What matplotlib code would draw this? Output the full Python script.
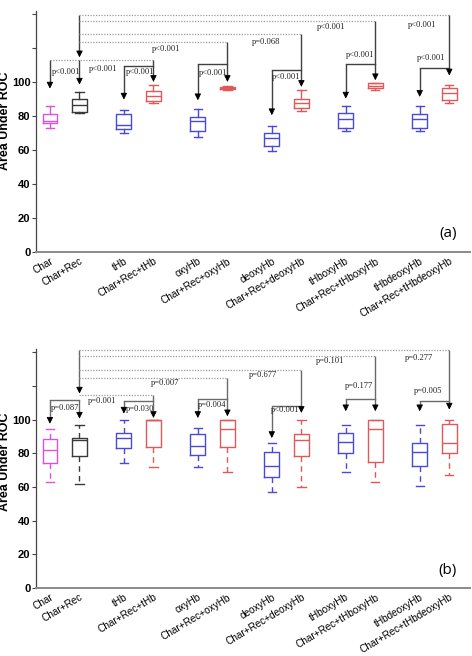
import matplotlib
matplotlib.use('Agg')
import matplotlib.pyplot as plt

categories = ['Char', 'Char+Rec', 'tHb', 'Char+Rec+tHb', 'oxyHb', 'Char+Rec+oxyHb',
              'deoxyHb', 'Char+Rec+deoxyHb', 'tHboxyHb', 'Char+Rec+tHboxyHb',
              'tHbdeoxyHb', 'Char+Rec+tHbdeoxyHb']
positions = [0, 1, 2.5, 3.5, 5, 6, 7.5, 8.5, 10, 11, 12.5, 13.5]
MAG, BLK, BLU, RED = '#e050e0', '#3a3a3a', '#4a4ad8', '#e05858'
box_colors = [MAG, BLK, BLU, RED, BLU, RED, BLU, RED, BLU, RED, BLU, RED]

# ---- panel (a) box statistics ----
a_whislo = [73.0, 82.0, 70.4, 87.5, 67.8, 95.3, 59.6, 82.9, 71.2, 95.7, 71.2, 87.5]
a_q1     = [76.0, 82.5, 72.7, 89.0, 71.2, 95.8, 62.5, 85.1, 73.3, 96.5, 73.3, 89.8]
a_med    = [77.3, 86.5, 74.7, 92.0, 77.3, 96.6, 67.3, 88.0, 78.6, 97.8, 78.6, 93.7]
a_q3     = [81.6, 90.0, 81.4, 95.1, 79.6, 97.2, 70.2, 90.4, 82.0, 99.4, 81.6, 96.9]
a_whishi = [86.3, 94.3, 83.9, 98.6, 84.5, 97.6, 74.3, 95.7, 86.3, 99.8, 86.3, 98.6]

# ---- panel (b) box statistics ----
b_whislo = [62.9, 61.7, 74.2, 71.6, 71.6, 68.9, 57.0, 60.3, 68.7, 62.9, 60.7, 67.3]
b_q1     = [74.2, 78.2, 83.1, 83.5, 79.2, 83.5, 65.9, 78.2, 80.2, 74.8, 72.6, 80.2]
b_med    = [82.1, 87.7, 89.1, 100.0, 84.1, 94.6, 72.6, 87.7, 86.5, 94.6, 80.8, 86.1]
b_q3     = [88.7, 89.1, 92.1, 100.0, 91.5, 100.0, 80.8, 91.7, 92.1, 100.0, 86.1, 97.4]
b_whishi = [94.6, 97.0, 100.0, 100.0, 95.0, 100.0, 86.1, 100.0, 97.0, 100.0, 97.0, 100.0]

# ---- comparisons: Char+Rec vs combined (targets are box indices) ----
top_targets = [11, 9, 7, 5, 3]
a_top_levels = [139.7, 136.2, 128.5, 123.5, 113.0]
a_top_p = ['p<0.001', 'p<0.001', 'p=0.068', 'p<0.001', 'p<0.001']
a_top_lx = [12.58, 9.5, 7.3, 3.93, 1.8]
a_top_ly = [134.0, 132.4, 124.0, 119.4, 108.0]
a_cr_tip = 114.7

b_top_levels = [141.3, 138.1, 129.8, 124.8, 114.9]
b_top_p = ['p=0.277', 'p=0.101', 'p=0.677', 'p=0.007', 'p=0.001']
b_top_lx = [12.46, 9.46, 7.2, 3.88, 1.75]
b_top_ly = [136.7, 134.7, 126.8, 121.8, 110.9]
b_cr_tip = 115.5

# ---- pair comparisons (single vs combined) ----
pairs = [(0, 1), (2, 3), (4, 5), (6, 7), (8, 9), (10, 11)]
a_pair_levels = [113.0, 109.6, 111.0, 107.0, 111.0, 108.6]
a_pair_p = ['p<0.001'] * 6
a_pair_lx = [0.56, 3.04, 5.53, 8.0, 10.5, 12.9]
a_pair_ly = [106.0, 105.9, 105.3, 103.0, 116.3, 114.5]
a_tips = [96.3, 98.6, 89.8, 100.2, 89.4, 100.2, 80.6, 97.3, 90.4, 101.2, 91.4, 104.0]

b_pair_levels = [111.5, 111.3, 112.3, 107.9, 112.5, 110.9]
b_pair_p = ['p=0.087', 'p=0.030', 'p=0.004', 'p<0.001', 'p=0.177', 'p=0.005']
b_pair_lx = [0.51, 3.05, 5.47, 7.95, 10.44, 12.8]
b_pair_ly = [107.0, 106.4, 108.5, 105.5, 119.8, 116.8]
b_tips = [97.6, 100.6, 103.6, 101.0, 101.0, 102.0, 89.1, 104.0, 105.0, 105.0, 105.0, 106.0]

yticks = [0, 20, 40, 60, 80, 100, 120, 140]
ytick_labels = ['0', '20', '40', '60', '80', '100', '', '']

W, H = 472, 656
fig = plt.figure(figsize=(W / 100, H / 100), dpi=100)
ax_a = fig.add_axes([36 / W, 1 - 252 / H, 434 / W, 241 / H])
ax_b = fig.add_axes([36 / W, 1 - 588 / H, 434 / W, 239 / H])

SERIF = ['Liberation Serif', 'DejaVu Serif']
SANS = ['Liberation Sans', 'DejaVu Sans']


def arrow(ax, x, y_from, y_to, lcolor):
    ax.plot([x, x], [y_from, y_to + 1.5], color=lcolor, lw=1.0, solid_capstyle='butt')
    ax.annotate('', xy=(x, y_to), xytext=(x, y_to + 2.5),
                arrowprops=dict(arrowstyle='-|>,head_length=0.6,head_width=0.3',
                                color='black', lw=0.6, mutation_scale=6.5,
                                shrinkA=0, shrinkB=0))


def panel(ax, whislo, q1, med, q3, whishi, dashed, top_levels, top_p, top_lx, top_ly,
          cr_tip, pair_levels, pair_p, pair_lx, pair_ly, tips, lcolor, char_dotted, letter):
    stats = []
    for i in range(len(categories)):
        stats.append(dict(whislo=whislo[i], q1=q1[i], med=med[i], q3=q3[i],
                          whishi=whishi[i], label=categories[i]))
    for i, st in enumerate(stats):
        c = box_colors[i]
        ls = (0, (4, 3)) if dashed else '-'
        ax.bxp([st], positions=[positions[i]], widths=0.5, showfliers=False,
               capwidths=0.28,
               boxprops=dict(color=c, lw=1.0),
               medianprops=dict(color=c, lw=1.0),
               whiskerprops=dict(color=c, lw=1.0, linestyle=ls),
               capprops=dict(color=c, lw=1.0), manage_ticks=False)

    xcr = positions[1]
    # Char+Rec top arrow
    arrow(ax, xcr, top_levels[0], cr_tip, lcolor)
    # Char+Rec vs combined
    for k, t in enumerate(top_targets):
        xt = positions[t]
        x0 = positions[0] if (char_dotted and t == 3) else xcr
        ax.plot([x0, xt], [top_levels[k], top_levels[k]], color='#9a9a9a', lw=0.9,
                linestyle=(0, (1, 1.2)))
        arrow(ax, xt, top_levels[k], tips[t], lcolor)
        ax.text(top_lx[k], top_ly[k], top_p[k], ha='center', va='center',
                fontsize=6.1, family=SERIF, color='#222')
    # pair brackets
    for k, (i, j) in enumerate(pairs):
        xi, xj = positions[i], positions[j]
        lv = pair_levels[k]
        if not (char_dotted and k == 0):
            ax.plot([xi, xj], [lv, lv], color=lcolor, lw=1.0)
        arrow(ax, xi, lv, tips[i], lcolor)
        if k == 0:
            arrow(ax, xj, lv, tips[j], lcolor)
        ax.text(pair_lx[k], pair_ly[k], pair_p[k], ha='center', va='center',
                fontsize=6.1, family=SERIF, color='#222')

    ax.set_xlim(-0.47, 14.2)
    ax.set_ylim(0, 142)
    ax.set_yticks(yticks)
    ax.set_yticklabels(ytick_labels, fontsize=8, fontweight='bold', family=SANS)
    ax.set_xticks(positions)
    ax.set_xticklabels(categories, rotation=31, ha='right', rotation_mode='anchor',
                       fontsize=7.2, family=SANS)
    ax.tick_params(axis='x', length=0, pad=3)
    ax.tick_params(axis='y', length=3, width=0.8, pad=1, color='#444')
    for s in ['top', 'right']:
        ax.spines[s].set_visible(False)
    ax.spines['left'].set_color('#444')
    ax.spines['left'].set_linewidth(0.9)
    ax.spines['bottom'].set_color('#8a8a8a')
    ax.spines['bottom'].set_linewidth(1.4)
    ax.set_ylabel('Area Under ROC', fontsize=9, fontweight='bold', family=SANS)
    ax.text(0.949, 0.075, letter, transform=ax.transAxes, ha='center', va='center',
            fontsize=11, family=['Open Sans', 'DejaVu Sans'])


panel(ax_a, a_whislo, a_q1, a_med, a_q3, a_whishi, False, a_top_levels, a_top_p,
      a_top_lx, a_top_ly, a_cr_tip, a_pair_levels, a_pair_p, a_pair_lx, a_pair_ly,
      a_tips, '#404040', True, '(a)')
panel(ax_b, b_whislo, b_q1, b_med, b_q3, b_whishi, True, b_top_levels, b_top_p,
      b_top_lx, b_top_ly, b_cr_tip, b_pair_levels, b_pair_p, b_pair_lx, b_pair_ly,
      b_tips, '#6a6a6a', False, '(b)')
ax_a.yaxis.set_label_coords(-0.058, 0.545)
ax_b.yaxis.set_label_coords(-0.058, 0.53)

fig.savefig('out.png', dpi=100)
